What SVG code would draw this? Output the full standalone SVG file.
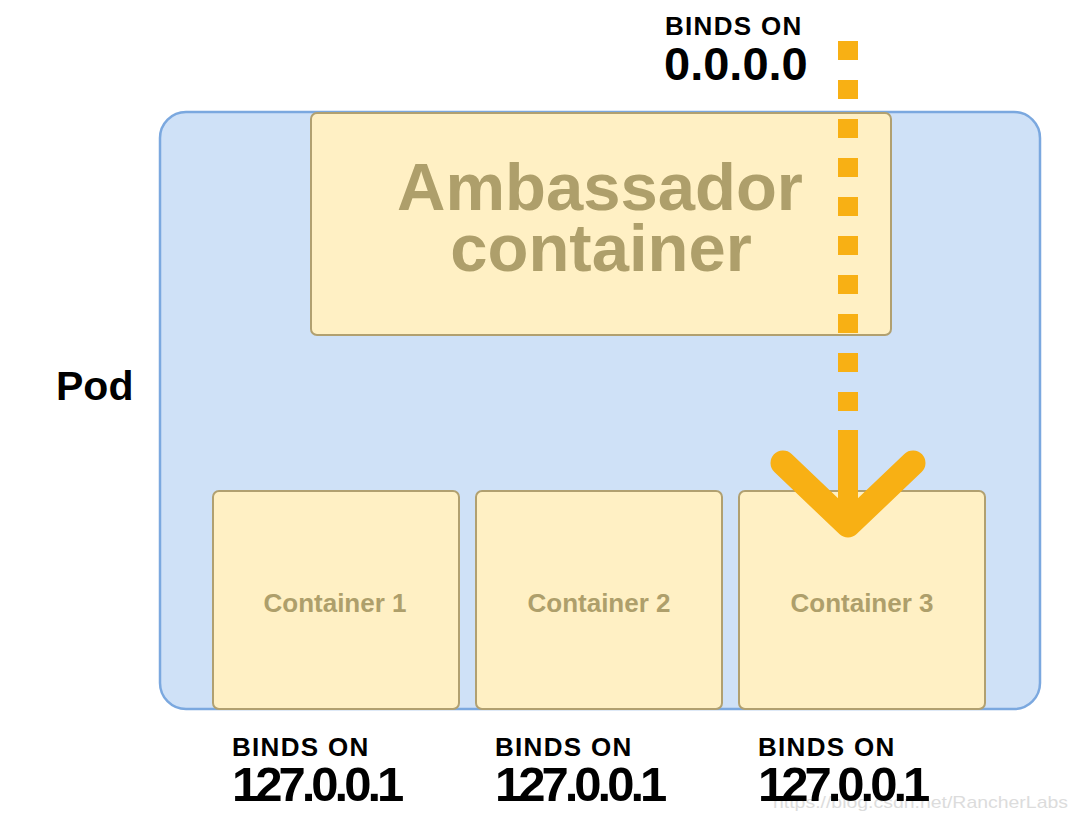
<svg xmlns="http://www.w3.org/2000/svg" width="1080" height="825" viewBox="0 0 1080 825">
<style>
.box{fill:#fff0c4;stroke:#b1a070;stroke-width:2}
.lbl{font-family:"Liberation Sans",Arial,sans-serif;font-weight:bold;fill:#ae9f6b;text-anchor:middle}
.blk{font-family:"Liberation Sans",Arial,sans-serif;font-weight:bold;fill:#000}
.bo{font-size:26px;letter-spacing:1.3px}
.ip{font-size:49px;letter-spacing:-4px}
</style>
<rect width="1080" height="825" fill="#fff"/>
<text x="773" y="808" font-family="Liberation Sans,Arial,sans-serif" font-size="17" fill="#dcdcdc" textLength="295" lengthAdjust="spacingAndGlyphs">https://blog.csdn.net/RancherLabs</text>
<g id="pod">
<rect x="160" y="112" width="880" height="597" rx="26" fill="#cfe1f7" stroke="#7ba8df" stroke-width="2.5"/>
<text class="blk" x="56" y="400" font-size="41">Pod</text>
</g>
<g id="ambassador">
<rect class="box" x="311" y="113" width="580" height="222" rx="6"/>
<text class="lbl" x="600" y="210" font-size="67">Ambassador</text>
<text class="lbl" x="601" y="271" font-size="67">container</text>
</g>
<g id="container1">
<rect class="box" x="213" y="491" width="246" height="218" rx="6"/>
<text class="lbl" x="335" y="612" font-size="26">Container 1</text>
</g>
<g id="container2">
<rect class="box" x="476" y="491" width="246" height="218" rx="6"/>
<text class="lbl" x="599" y="612" font-size="26">Container 2</text>
</g>
<g id="container3">
<rect class="box" x="739" y="491" width="246" height="218" rx="6"/>
<text class="lbl" x="862" y="612" font-size="26">Container 3</text>
</g>
<g id="connectors">
<line x1="848" y1="41" x2="848" y2="412" stroke="#f8b014" stroke-width="20" stroke-dasharray="19 20"/>
<line x1="848" y1="430" x2="848" y2="520" stroke="#f8b014" stroke-width="20"/>
<polyline points="783,463 848,525 913,463" fill="none" stroke="#f8b014" stroke-width="25" stroke-linecap="round" stroke-linejoin="round"/>
</g>
<g id="labels">
<text class="blk bo" x="665" y="35">BINDS ON</text>
<text class="blk" x="664" y="80" font-size="47">0.0.0.0</text>
<text class="blk bo" x="232" y="756">BINDS ON</text>
<text class="blk ip" x="232" y="801">127.0.0.1</text>
<text class="blk bo" x="495" y="756">BINDS ON</text>
<text class="blk ip" x="495" y="801">127.0.0.1</text>
<text class="blk bo" x="758" y="756">BINDS ON</text>
<text class="blk ip" x="758" y="801">127.0.0.1</text>
</g>
</svg>
